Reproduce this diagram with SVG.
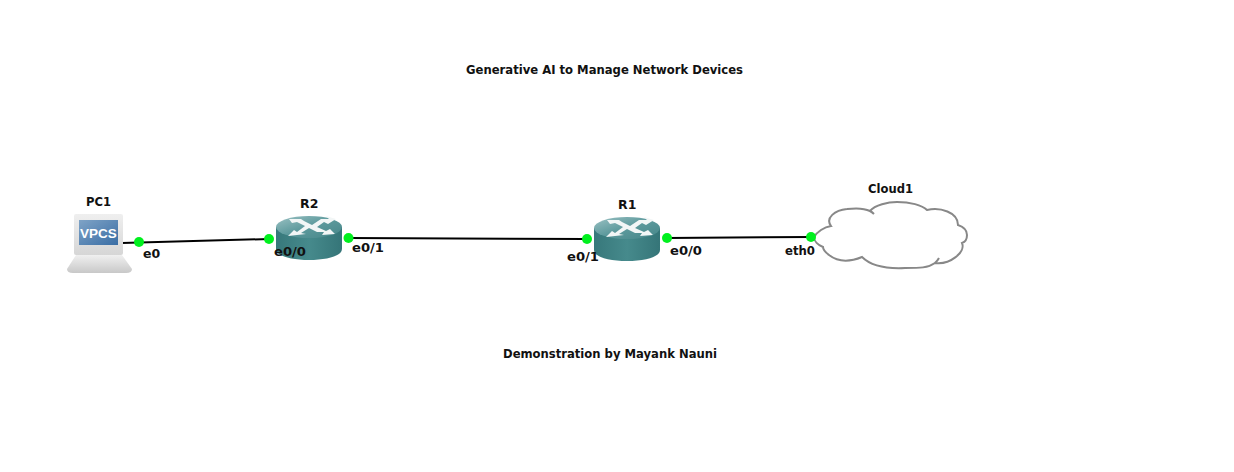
<svg xmlns="http://www.w3.org/2000/svg" width="1234" height="472" viewBox="0 0 1234 472">
<style>
text{font-family:"DejaVu Sans","Liberation Sans",sans-serif;font-weight:700;font-size:12.500px;fill:#111}
.link{stroke:#000;stroke-width:2;fill:none}
.dot{fill:#00f01e}
.cl{fill:none;stroke:#888;stroke-width:2}
</style>
<defs>
<linearGradient id="body" x1="0" y1="0" x2="1" y2="0"><stop offset="0" stop-color="#37787b"/><stop offset=".5" stop-color="#468a8c"/><stop offset="1" stop-color="#357578"/></linearGradient>
<linearGradient id="top" x1="0" y1="0" x2="1" y2="1"><stop offset="0" stop-color="#9cc2c4"/><stop offset=".5" stop-color="#5c999c"/><stop offset="1" stop-color="#468689"/></linearGradient>
<linearGradient id="screen" x1="0" y1="0" x2="1" y2="1"><stop offset="0" stop-color="#7fa3c6"/><stop offset="1" stop-color="#3a6ea5"/></linearGradient>
<linearGradient id="pc" x1="0" y1="0" x2="0" y2="1"><stop offset="0" stop-color="#efefef"/><stop offset="1" stop-color="#d6d6d6"/></linearGradient>
<linearGradient id="base" x1="0" y1="0" x2="0" y2="1"><stop offset="0" stop-color="#f0f0f0"/><stop offset="1" stop-color="#c8c8c8"/></linearGradient>
<g id="router">
<path d="M-33,11V33C-33,40 -18,44 0,44S33,40 33,33V11Z" fill="url(#body)"/>
<ellipse cx="0" cy="11" rx="33" ry="11" fill="url(#top)"/>
<path d="M-20,3L-8,3L-5,5L3,9L12,3L20,3L17,0L27,3L19,8L15,6L8,11L17,15L21,13L26,18L13,19L15,16L8,16L0,12L-8,17L-3,18L-21,20L-15,14L-12,16L-4,10L-12,6L-17,7Z" fill="#f2f6f6"/>
</g>
</defs>
<rect width="1234" height="472" fill="#fff"/>
<g id="connectors">
<path class="link" d="M122,243L269,239"/>
<path class="link" d="M348,238L587,239"/>
<path class="link" d="M667,238L811,237"/>
</g>
<g id="PC1">
<path d="M76,255H122L132,269Q132,273 126,273H73Q67,273 67,269Z" fill="url(#base)"/>
<rect x="74" y="214" width="49" height="41" rx="2" fill="url(#pc)"/>
<rect x="79" y="220" width="39" height="25" fill="url(#screen)"/>
<text x="98.500" y="238" text-anchor="middle" style="fill:#fff;font-family:'Liberation Sans',sans-serif;font-size:13.500px">VPCS</text>
<text x="86" y="206" textLength="25" lengthAdjust="spacingAndGlyphs">PC1</text>
</g>
<g id="R2">
<use href="#router" x="309" y="216"/>
<text x="300" y="208">R2</text>
</g>
<g id="R1">
<use href="#router" x="627" y="217"/>
<text x="618" y="209">R1</text>
</g>
<g id="Cloud1">
<path d="M814,237C817,232 824,227 831,226C825,218 835,210 847,209C855,208 864,208 870,211C875,205 888,202 897,202C910,202 922,205 927,210C940,207 958,212 958,225C964,227 967,231 967,235C967,239 965,242 962,243C966,252 950,265 935,263C928,268 920,268 905,268C885,269 870,265 862,257C850,262 838,262 829,255C825,252 823,250 823,247C818,245 814,241 814,237Z" fill="#fff" stroke="#888" stroke-width="2"/>
<path class="cl" d="M870,211C872,212 873,213 874,214M935,263C937,261 938,260 939,258"/>
<text x="868" y="193" textLength="45" lengthAdjust="spacingAndGlyphs">Cloud1</text>
</g>
<g id="ports">
<circle class="dot" cx="139" cy="242" r="5"/>
<circle class="dot" cx="269" cy="239" r="5"/>
<circle class="dot" cx="348.500" cy="238" r="5"/>
<circle class="dot" cx="587" cy="239" r="5"/>
<circle class="dot" cx="667" cy="238" r="5"/>
<circle class="dot" cx="811" cy="237" r="5"/>
<text x="143" y="258">e0</text>
<text x="274" y="256" textLength="32" lengthAdjust="spacingAndGlyphs">e0/0</text>
<text x="352" y="252" textLength="32" lengthAdjust="spacingAndGlyphs">e0/1</text>
<text x="567" y="261" textLength="32" lengthAdjust="spacingAndGlyphs">e0/1</text>
<text x="670" y="255" textLength="32" lengthAdjust="spacingAndGlyphs">e0/0</text>
<text x="785" y="255" textLength="30" lengthAdjust="spacingAndGlyphs">eth0</text>
</g>
<g id="notes">
<text x="466" y="74" textLength="277" lengthAdjust="spacingAndGlyphs">Generative AI to Manage Network Devices</text>
<text x="503" y="358" textLength="214" lengthAdjust="spacingAndGlyphs">Demonstration by Mayank Nauni</text>
</g>
</svg>
